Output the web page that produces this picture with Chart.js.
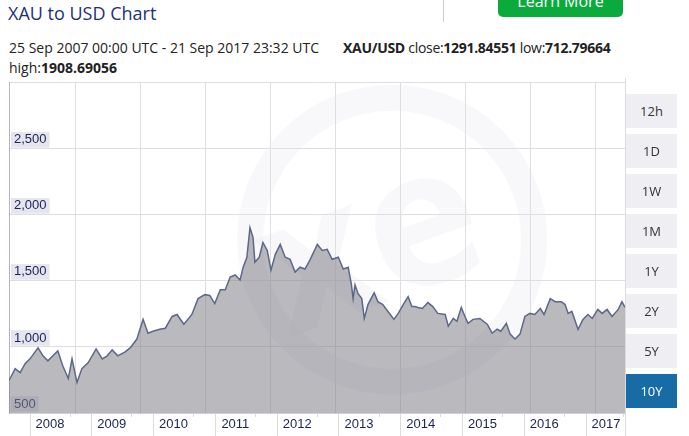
<!DOCTYPE html>
<html lang="en">
<head>
<meta charset="utf-8">
<title>XAU to USD Chart</title>
<script src="https://cdn.jsdelivr.net/npm/chart.js"></script>
<style>
  body { margin: 0; width: 689px; height: 436px; overflow: hidden; background: #fff; font-family: "Open Sans", sans-serif; position: relative; }
  .title { position: absolute; left: 8px; top: 1px; font-size: 18px; color: #1d2f7a; }
  .learn { position: absolute; left: 498px; top: -20px; width: 125px; height: 37px; background: #0aaa3c; border-radius: 5px; color: #fff; font-size: 16px; text-align: center; line-height: 42px; }
  .sep { position: absolute; left: 443px; top: 0; width: 1px; height: 22px; background: #ccc; }
  .info { position: absolute; left: 9px; top: 38px; font-size: 14px; color: #222; line-height: 20px; white-space: nowrap; }
  .info b { font-weight: 700; }
  .pair { position: absolute; left: 334px; top: 0; letter-spacing: -0.3px; }
  .wrap { position: absolute; left: 0; top: 70px; width: 626px; height: 366px; }
  .rline { position: absolute; left: 625px; top: 78px; width: 1px; height: 358px; background: #dcdcdc; }
  .btn { position: absolute; left: 626px; width: 51px; height: 34px; background: #efeff3; color: #333; font-size: 13px; text-align: center; line-height: 34px; }
  .btn.on { background: #186ca6; color: #fff; }
</style>
</head>
<body>
<div class="learn">Learn More</div>
<div class="sep"></div>
<div class="title">XAU to USD Chart</div>
<div class="info">
  <div>25 Sep 2007 00:00 UTC - 21 Sep 2017 23:32 UTC<span class="pair"><b>XAU/USD</b> close:<b>1291.84551</b> low:<b>712.79664</b></span></div>
  <div>high:<b>1908.69056</b></div>
</div>
<div class="wrap"><canvas id="goldChart"></canvas></div>
<div class="rline"></div>
<div id="buttons"></div>

<script>
// decimal years
const dates = [
  2007.66, 2007.76, 2007.84, 2007.92, 2008.00, 2008.13, 2008.21, 2008.29, 2008.37, 2008.45,
  2008.53, 2008.62, 2008.68, 2008.76, 2008.84, 2008.94, 2009.07, 2009.17, 2009.25, 2009.33,
  2009.42, 2009.54, 2009.62, 2009.73, 2009.83, 2009.91, 2009.99, 2010.10, 2010.19, 2010.30,
  2010.38, 2010.49, 2010.62, 2010.72, 2010.83, 2010.91, 2010.99, 2011.08, 2011.16, 2011.24,
  2011.32, 2011.40, 2011.45, 2011.51, 2011.56, 2011.61, 2011.64, 2011.71, 2011.77, 2011.84,
  2011.90, 2011.97, 2012.05, 2012.13, 2012.21, 2012.29, 2012.37, 2012.45, 2012.53, 2012.65,
  2012.73, 2012.81, 2012.89, 2012.99, 2013.07, 2013.15, 2013.20, 2013.23, 2013.26, 2013.31,
  2013.37, 2013.41, 2013.47, 2013.57, 2013.63, 2013.71, 2013.83, 2013.89, 2013.96, 2014.04,
  2014.12, 2014.18, 2014.23, 2014.28, 2014.35, 2014.44, 2014.52, 2014.60, 2014.72, 2014.77,
  2014.85, 2014.91, 2014.98, 2015.04, 2015.09, 2015.17, 2015.28, 2015.40, 2015.48, 2015.56,
  2015.62, 2015.71, 2015.77, 2015.85, 2015.93, 2016.01, 2016.09, 2016.17, 2016.26, 2016.32,
  2016.42, 2016.50, 2016.60, 2016.66, 2016.71, 2016.77, 2016.87, 2016.95, 2017.03, 2017.10,
  2017.19, 2017.26, 2017.34, 2017.42, 2017.52, 2017.58, 2017.63
];
const prices = [
  746, 836, 806, 873, 910, 993, 933, 895, 933, 970,
  858, 761, 910, 731, 836, 880, 985, 910, 933, 978,
  933, 963, 993, 1060, 1209, 1104, 1119, 1134, 1142, 1231,
  1246, 1172, 1246, 1366, 1396, 1390, 1328, 1433, 1433, 1530,
  1545, 1507, 1604, 1679, 1903, 1828, 1642, 1679, 1791, 1731,
  1582, 1701, 1776, 1679, 1664, 1567, 1604, 1590, 1657, 1776,
  1731, 1739, 1664, 1679, 1590, 1604, 1478, 1366, 1470, 1403,
  1366, 1216, 1321, 1410, 1343, 1321, 1246, 1209, 1254, 1321,
  1381, 1306, 1306, 1299, 1291, 1336, 1306, 1254, 1246, 1157,
  1216, 1194, 1299, 1231, 1179, 1209, 1216, 1172, 1104, 1134,
  1119, 1179, 1097, 1060, 1097, 1231, 1254, 1246, 1291, 1246,
  1366, 1343, 1343, 1321, 1254, 1269, 1134, 1209, 1246, 1216,
  1284, 1254, 1284, 1231, 1284, 1343, 1299
];
const yearTicks = [2008, 2009, 2010, 2011, 2012, 2013, 2014, 2015, 2016, 2017];
const yTicks = [500, 1000, 1500, 2000, 2500, 3000];
const rangeButtons = ['12h', '1D', '1W', '1M', '1Y', '2Y', '5Y', '10Y'];

const xMin = 2007.66, xMax = 2017.63;

// range buttons on the right
const btnBox = document.getElementById('buttons');
rangeButtons.forEach((b, i) => {
  const d = document.createElement('div');
  d.className = 'btn' + (b === '10Y' ? ' on' : '');
  d.style.top = (94 + i * 40) + 'px';
  d.textContent = b;
  btnBox.appendChild(d);
});

// year separators plus the small mid ticks
const xTickVals = [];
yearTicks.forEach(y => {
  xTickVals.push(y);
  xTickVals.push(Math.min(y + 0.65, xMax - 0.03));
});

// faint xe logo behind the area
const watermark = {
  id: 'watermark',
  beforeDatasetsDraw(chart) {
    const {ctx, chartArea: a} = chart;
    ctx.save();
    ctx.beginPath();
    ctx.rect(a.left, a.top, a.right - a.left, a.bottom - a.top);
    ctx.clip();
    const cx = a.left + (a.right - a.left) * 0.622;
    const cy = a.top + (a.bottom - a.top) * 0.475;
    const c = 'rgba(226,226,236,0.25)';
    ctx.strokeStyle = c;
    ctx.lineWidth = 26;
    ctx.beginPath();
    ctx.arc(cx, cy, 142, 0, Math.PI * 2);
    ctx.stroke();
    ctx.translate(cx - 20, cy + 10);
    ctx.rotate(-0.35);
    ctx.fillStyle = c;
    ctx.font = 'bold 190px "Open Sans"';
    ctx.textAlign = 'center';
    ctx.textBaseline = 'middle';
    ctx.fillText('xe', 0, 0);
    ctx.restore();
  }
};

const ctx = document.getElementById('goldChart').getContext('2d');
const goldChart = new Chart(ctx, {
  type: 'line',
  data: {
    datasets: [{
      label: 'XAU/USD',
      data: dates.map((d, i) => ({x: d, y: prices[i]})),
      borderColor: '#5d6788',
      borderWidth: 1.5,
      backgroundColor: 'rgba(128,128,136,0.55)',
      fill: 'origin',
      pointRadius: 0,
      tension: 0,
      xAxisID: 'x',
      yAxisID: 'y'
    }]
  },
  options: {
    responsive: true,
    maintainAspectRatio: false,
    animation: false,
    layout: { padding: { left: 9, right: 1, top: 8, bottom: 0 } },
    plugins: { legend: { display: false }, tooltip: { enabled: false } },
    scales: {
      x: {
        type: 'linear',
        position: 'bottom',
        min: xMin,
        max: xMax,
        afterBuildTicks: s => { s.ticks = xTickVals.map(v => ({value: v})); },
        afterFit: s => { s.height = 23; },
        grid: {
          drawOnChartArea: false,
          drawTicks: true,
          tickLength: 23,
          color: '#dcdcdc',
          tickBorderDash: c => (c.tick && c.tick.value % 1 !== 0) ? [3, 60] : []
        },
        border: { display: true, color: '#cfcfd6' },
        ticks: {
          autoSkip: false,
          maxRotation: 0,
          padding: -19,
          labelOffset: 20,
          color: '#1b2254',
          font: { family: 'Liberation Sans', size: 13 },
          callback: v => (v % 1 === 0 ? String(v) : '')
        }
      },
      xg: {
        type: 'linear',
        position: 'bottom',
        min: -66 / 65,
        max: 616 / 65 - 66 / 65,
        afterBuildTicks: s => { s.ticks = [0, 1, 2, 3, 4, 5, 6, 7, 8].map(v => ({value: v})); },
        afterFit: s => { s.height = 0; },
        grid: { drawTicks: false, color: '#dedede' },
        border: { display: false },
        ticks: { display: false }
      },
      y: {
        type: 'linear',
        position: 'left',
        min: 500,
        max: 3000,
        afterBuildTicks: s => { s.ticks = yTicks.map(v => ({value: v})); },
        afterFit: s => { s.width = 0; },
        grid: { drawTicks: false, color: '#dedede' },
        border: { display: true, color: '#b4b4c6' },
        ticks: {
          mirror: true,
          padding: 5,
          labelOffset: -9,
          color: '#1b2254',
          font: { family: 'Liberation Sans', size: 13 },
          showLabelBackdrop: true,
          backdropColor: c => (c.tick && c.tick.value === 3000 ? 'rgba(0,0,0,0)' : '#e5e5ef'),
          backdropPadding: { x: 3, y: 0 },
          callback: v => (v === 3000 ? '' : v.toLocaleString('en-US'))
        }
      }
    }
  },
  plugins: [watermark]
});
</script>
</body>
</html>
